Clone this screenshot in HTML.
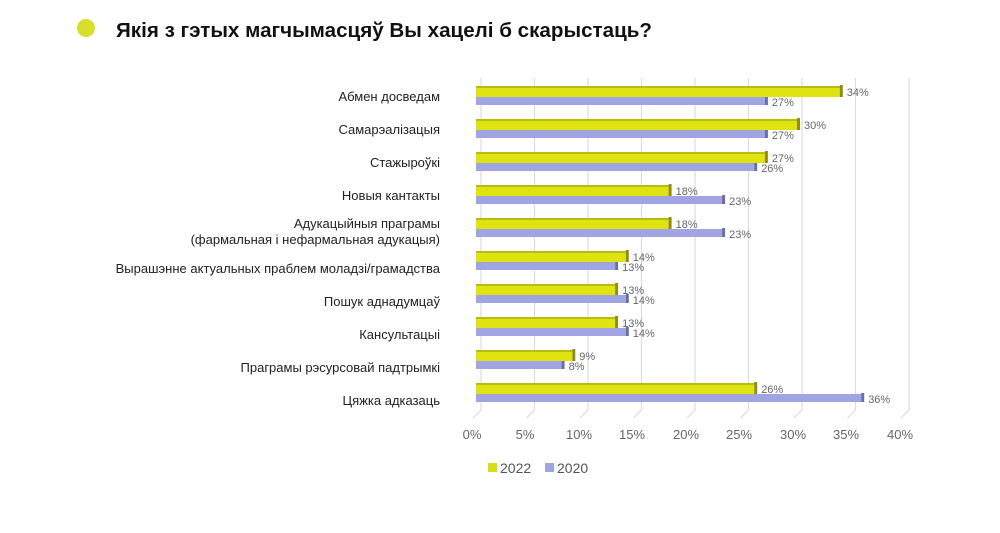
<!DOCTYPE html>
<html><head><meta charset="utf-8"><style>
body{margin:0;background:#fff;}
svg text{font-family:"Liberation Sans",sans-serif;}
</style></head><body>
<svg width="1000" height="528" xmlns="http://www.w3.org/2000/svg">
<circle cx="86" cy="28" r="9" fill="#d8df2a"/>
<text x="116" y="37" font-size="20" font-weight="bold" fill="#111" textLength="536" lengthAdjust="spacingAndGlyphs">Якія з гэтых магчымасцяў Вы хацелі б скарыстаць?</text>
<g stroke="#dcdcdc" stroke-width="1.2" fill="none">
<path d="M481 78V410l-8 8"/><path d="M534.5 78V410l-8 8"/><path d="M588 78V410l-8 8"/><path d="M641.5 78V410l-8 8"/><path d="M695 78V410l-8 8"/><path d="M748.5 78V410l-8 8"/><path d="M802 78V410l-8 8"/><path d="M855.5 78V410l-8 8"/><path d="M909 78V410l-8 8"/>
</g>
<g font-size="13" fill="#666" text-anchor="middle">
<text x="472" y="439">0%</text><text x="525" y="439">5%</text><text x="579" y="439">10%</text><text x="632" y="439">15%</text><text x="686" y="439">20%</text><text x="739" y="439">25%</text><text x="793" y="439">30%</text><text x="846" y="439">35%</text><text x="900" y="439">40%</text>
</g>
<g font-size="11" fill="#666">
<g transform="translate(476,86)"><rect x="0" y="11" width="288.9" height="8" fill="#a0a4e2"/><rect x="288.9" y="10" width="3" height="9" fill="#6a6ea8"/><rect x="0" y="0" width="363.8" height="11" fill="#dfe310"/><rect x="0" y="0" width="363.8" height="2" fill="#b8bb10"/><rect x="363.8" y="-1" width="3" height="12" fill="#8c8e18"/><text x="370.8" y="10">34%</text><text x="295.9" y="20">27%</text></g>
<g transform="translate(476,119)"><rect x="0" y="11" width="288.9" height="8" fill="#a0a4e2"/><rect x="288.9" y="10" width="3" height="9" fill="#6a6ea8"/><rect x="0" y="0" width="321" height="11" fill="#dfe310"/><rect x="0" y="0" width="321" height="2" fill="#b8bb10"/><rect x="321" y="-1" width="3" height="12" fill="#8c8e18"/><text x="328" y="10">30%</text><text x="295.9" y="20">27%</text></g>
<g transform="translate(476,152)"><rect x="0" y="11" width="278.2" height="8" fill="#a0a4e2"/><rect x="278.2" y="10" width="3" height="9" fill="#6a6ea8"/><rect x="0" y="0" width="288.9" height="11" fill="#dfe310"/><rect x="0" y="0" width="288.9" height="2" fill="#b8bb10"/><rect x="288.9" y="-1" width="3" height="12" fill="#8c8e18"/><text x="295.9" y="10">27%</text><text x="285.2" y="20">26%</text></g>
<g transform="translate(476,185)"><rect x="0" y="11" width="246.1" height="8" fill="#a0a4e2"/><rect x="246.1" y="10" width="3" height="9" fill="#6a6ea8"/><rect x="0" y="0" width="192.6" height="11" fill="#dfe310"/><rect x="0" y="0" width="192.6" height="2" fill="#b8bb10"/><rect x="192.6" y="-1" width="3" height="12" fill="#8c8e18"/><text x="199.6" y="10">18%</text><text x="253.1" y="20">23%</text></g>
<g transform="translate(476,218)"><rect x="0" y="11" width="246.1" height="8" fill="#a0a4e2"/><rect x="246.1" y="10" width="3" height="9" fill="#6a6ea8"/><rect x="0" y="0" width="192.6" height="11" fill="#dfe310"/><rect x="0" y="0" width="192.6" height="2" fill="#b8bb10"/><rect x="192.6" y="-1" width="3" height="12" fill="#8c8e18"/><text x="199.6" y="10">18%</text><text x="253.1" y="20">23%</text></g>
<g transform="translate(476,251)"><rect x="0" y="11" width="139.1" height="8" fill="#a0a4e2"/><rect x="139.1" y="10" width="3" height="9" fill="#6a6ea8"/><rect x="0" y="0" width="149.8" height="11" fill="#dfe310"/><rect x="0" y="0" width="149.8" height="2" fill="#b8bb10"/><rect x="149.8" y="-1" width="3" height="12" fill="#8c8e18"/><text x="156.8" y="10">14%</text><text x="146.1" y="20">13%</text></g>
<g transform="translate(476,284)"><rect x="0" y="11" width="149.8" height="8" fill="#a0a4e2"/><rect x="149.8" y="10" width="3" height="9" fill="#6a6ea8"/><rect x="0" y="0" width="139.1" height="11" fill="#dfe310"/><rect x="0" y="0" width="139.1" height="2" fill="#b8bb10"/><rect x="139.1" y="-1" width="3" height="12" fill="#8c8e18"/><text x="146.1" y="10">13%</text><text x="156.8" y="20">14%</text></g>
<g transform="translate(476,317)"><rect x="0" y="11" width="149.8" height="8" fill="#a0a4e2"/><rect x="149.8" y="10" width="3" height="9" fill="#6a6ea8"/><rect x="0" y="0" width="139.1" height="11" fill="#dfe310"/><rect x="0" y="0" width="139.1" height="2" fill="#b8bb10"/><rect x="139.1" y="-1" width="3" height="12" fill="#8c8e18"/><text x="146.1" y="10">13%</text><text x="156.8" y="20">14%</text></g>
<g transform="translate(476,350)"><rect x="0" y="11" width="85.6" height="8" fill="#a0a4e2"/><rect x="85.6" y="10" width="3" height="9" fill="#6a6ea8"/><rect x="0" y="0" width="96.3" height="11" fill="#dfe310"/><rect x="0" y="0" width="96.3" height="2" fill="#b8bb10"/><rect x="96.3" y="-1" width="3" height="12" fill="#8c8e18"/><text x="103.3" y="10">9%</text><text x="92.6" y="20">8%</text></g>
<g transform="translate(476,383)"><rect x="0" y="11" width="385.2" height="8" fill="#a0a4e2"/><rect x="385.2" y="10" width="3" height="9" fill="#6a6ea8"/><rect x="0" y="0" width="278.2" height="11" fill="#dfe310"/><rect x="0" y="0" width="278.2" height="2" fill="#b8bb10"/><rect x="278.2" y="-1" width="3" height="12" fill="#8c8e18"/><text x="285.2" y="10">26%</text><text x="392.2" y="20">36%</text></g>
</g>
<g font-size="13" fill="#222" text-anchor="end">
<text x="440" y="101">Абмен досведам</text>
<text x="440" y="134">Самарэалізацыя</text>
<text x="440" y="167">Стажыроўкі</text>
<text x="440" y="200">Новыя кантакты</text>
<text x="440" y="228">Адукацыйныя праграмы</text>
<text x="440" y="244">(фармальная і нефармальная адукацыя)</text>
<text x="440" y="273">Вырашэнне актуальных праблем моладзі/грамадства</text>
<text x="440" y="306">Пошук аднадумцаў</text>
<text x="440" y="339">Кансультацыі</text>
<text x="440" y="372">Праграмы рэсурсовай падтрымкі</text>
<text x="440" y="405">Цяжка адказаць</text>
</g>
<rect x="488" y="463" width="9" height="9" fill="#d8df10"/>
<text x="500" y="473" font-size="14" fill="#555">2022</text>
<rect x="545" y="463" width="9" height="9" fill="#9fa3e0"/>
<text x="557" y="473" font-size="14" fill="#555">2020</text>
</svg>
</body></html>
